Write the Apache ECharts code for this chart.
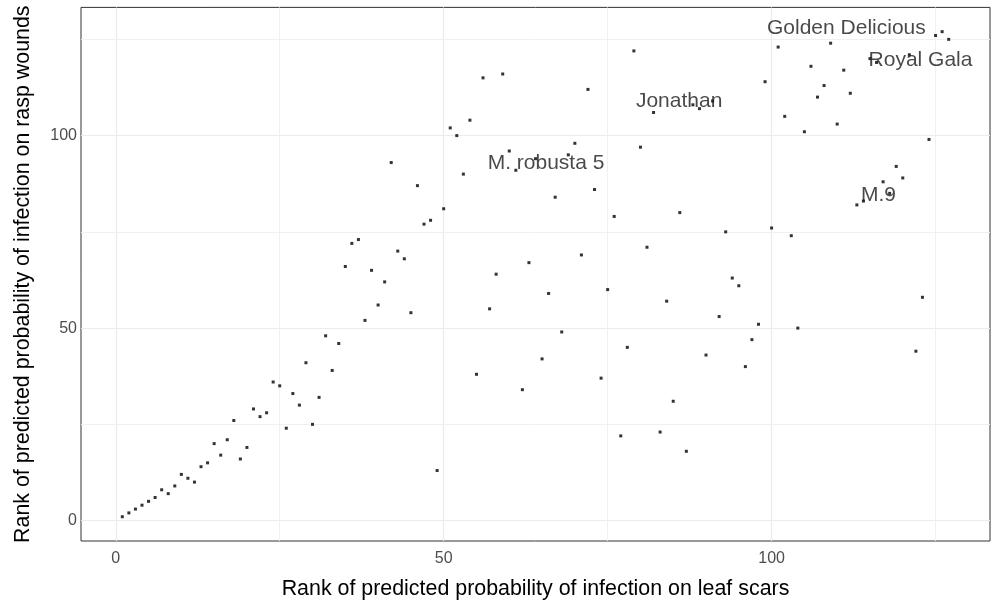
<!DOCTYPE html>
<html><head><meta charset="utf-8">
<script src="https://cdn.jsdelivr.net/npm/echarts@6/dist/echarts.min.js"></script>
<style>html,body{margin:0;padding:0;background:#fff}#c{width:992px;height:605px}</style>
</head><body><div id="c"></div>
<script>
const leafScarRank = [1,2,3,4,5,6,7,8,9,10,11,12,13,14,15,16,17,18,19,20,21,22,23,24,25,26,27,28,29,30,31,32,33,34,35,36,37,38,39,40,41,42,43,44,45,46,47,48,49,50,51,52,53,54,55,56,57,58,59,60,61,62,63,64,65,66,67,68,69,70,71,72,73,74,75,76,77,78,79,80,81,82,83,84,85,86,87,88,89,90,91,92,93,94,95,96,97,98,99,100,101,102,103,104,105,106,107,108,109,110,111,112,113,114,115,116,117,118,119,120,121,122,123,124,125,126,127];
const raspWoundRank = [1,2,3,4,5,6,8,7,9,12,11,10,14,15,20,17,21,26,16,19,29,27,28,36,35,24,33,30,41,25,32,48,39,46,66,72,73,52,65,56,62,93,70,68,54,87,77,78,13,81,102,100,90,104,38,115,55,64,116,96,91,34,67,94,42,59,84,49,95,98,69,112,86,37,60,79,22,45,122,97,71,106,23,57,31,80,18,108,107,43,109,53,75,63,61,40,47,51,114,76,123,105,74,50,101,118,110,113,124,103,117,111,82,83,120,119,88,85,92,89,121,44,58,99,126,127,125];
const xTickValues = [0,50,100];
const yTickValues = [0,50,100];
const majorGrid = [0,50,100];
const minorGrid = [25,75,125];
const labelNames = ['Golden Delicious','Royal Gala','Jonathan','M. robusta 5','M.9'];
const labelX = [111.4,122.7,85.9,65.6,116.3];
const labelY = [127.9,119.6,109.0,92.9,84.5];
const axisMin = -5.3, axisMax = 133.3;
const xTitle = 'Rank of predicted probability of infection on leaf scars';
const yTitle = 'Rank of predicted probability of infection on rasp wounds';

const FONT = '"Liberation Sans", Arial, sans-serif';
const chart = echarts.init(document.getElementById('c'), null, {renderer:'canvas'});
const gridLines = [];
majorGrid.forEach(v => { gridLines.push({xAxis:v, lineStyle:{color:'#EBEBEB', width:1.2, type:'solid'}}); gridLines.push({yAxis:v, lineStyle:{color:'#EBEBEB', width:1.2, type:'solid'}}); });
minorGrid.forEach(v => { gridLines.push({xAxis:v, lineStyle:{color:'#EEEEEE', width:0.9, type:'solid'}}); gridLines.push({yAxis:v, lineStyle:{color:'#EEEEEE', width:0.9, type:'solid'}}); });

const axisCommon = {
  type:'value', min:axisMin, max:axisMax,
  splitLine:{show:false}, minorSplitLine:{show:false},
  axisLine:{show:false},
  nameLocation:'middle',
  nameTextStyle:{fontSize:21.4, color:'#000', fontFamily:FONT}
};
chart.setOption({
  animation:false,
  backgroundColor:'#fff',
  textStyle:{fontFamily:FONT},
  grid:{left:81, right:2, top:7.4, bottom:59, show:true, borderColor:'#333333', borderWidth:1, backgroundColor:'#fff'},
  xAxis:Object.assign({}, axisCommon, {
    name:xTitle, nameGap:38,
    axisTick:{show:true, customValues:xTickValues, length:4, lineStyle:{color:'#333333'}},
    axisLabel:{customValues:xTickValues, fontSize:16, color:'#4D4D4D', margin:10, fontFamily:FONT}
  }),
  yAxis:Object.assign({}, axisCommon, {
    name:yTitle, nameGap:47,
    axisTick:{show:true, customValues:yTickValues, length:4, lineStyle:{color:'#333333'}},
    axisLabel:{customValues:yTickValues, fontSize:16, color:'#4D4D4D', margin:4, fontFamily:FONT}
  }),
  series:[
    {type:'scatter', data:[], silent:true, z:1,
     markLine:{silent:true, z:1, symbol:['none','none'], label:{show:false}, animation:false, data:gridLines}},
    {type:'scatter', z:3, symbol:'rect', symbolSize:3, itemStyle:{color:'#000'},
     data: leafScarRank.map((x,i)=>[x, raspWoundRank[i]])},
    {type:'scatter', z:4, symbolSize:0, silent:true,
     data: labelNames.map((n,i)=>({name:n, value:[labelX[i], labelY[i]]})),
     label:{show:true, position:'inside', formatter:p=>p.name, fontSize:21, color:'#1a1a1a', fontFamily:FONT}}
  ]
});
</script></body></html>
